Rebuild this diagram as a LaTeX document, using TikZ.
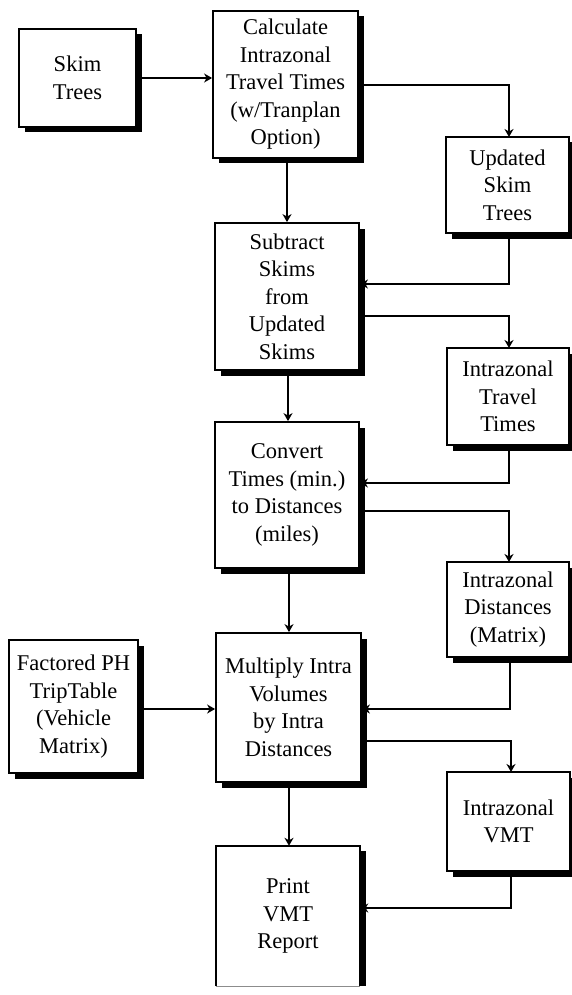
\documentclass[tikz,border=0pt]{standalone}
\usepackage{fontspec}
\setmainfont{Liberation Serif}
\usetikzlibrary{arrows.meta,shadows}
\tikzset{
  box/.style={draw=black, line width=1.8pt, fill=white, inner sep=0pt, align=center,
    font=\fontsize{22.5}{27.5}\selectfont,
    drop shadow={shadow xshift=5.5pt, shadow yshift=-5.5pt, opacity=1, fill=black}},
  plainbox/.style={draw=none, inner sep=0pt, align=center, font=\fontsize{22.5}{27.5}\selectfont},
  conn/.style={line width=1.5pt, -{Stealth[length=8pt,width=9pt,inset=2.5pt]}}
}
\begin{document}
\begin{tikzpicture}[x=1pt,y=-1pt]
\useasboundingbox (0,0) rectangle (572,995);
% boxes
\node[box, minimum width=117pt, minimum height=98pt] (skim) at (77.5,78) {Skim\\Trees};
\node[box, minimum width=145pt, minimum height=147pt] (calc) at (285.5,84.5) {Calculate\\Intrazonal\\Travel Times\\(w/Tranplan\\Option)};
\node[box, minimum width=123pt, minimum height=96pt] (upd) at (507.5,185) {Updated\\Skim\\Trees};
\node[box, minimum width=144pt, minimum height=147pt] (sub) at (287,296.5) {Subtract\\Skims\\from\\Updated\\Skims};
\node[box, minimum width=122pt, minimum height=97pt] (itt) at (508,396.5) {Intrazonal\\Travel\\Times};
\node[box, minimum width=144pt, minimum height=146pt] (conv) at (287,495) {Convert\\Times (min.)\\to Distances\\(miles)};
\node[box, minimum width=122pt, minimum height=95pt] (dist) at (508,609.5) {Intrazonal\\Distances\\(Matrix)};
\node[box, minimum width=145pt, minimum height=149pt] (mult) at (288.5,707.5) {Multiply Intra\\Volumes\\by Intra\\Distances};
\node[box, minimum width=129pt, minimum height=133pt] (fact) at (73.5,706.5) {Factored PH\\TripTable\\(Vehicle\\Matrix)};
\node[box, minimum width=123pt, minimum height=99pt] (vmt) at (508.5,821.5) {Intrazonal\\VMT};
% print box (cut at the bottom)
\node[plainbox, minimum width=144pt, minimum height=140pt] (print) at (288,916) {Print\\VMT\\Report};
\fill[black] ([yshift=-5.5pt]print.north east) rectangle ([xshift=5.5pt]print.south east);
\draw[line width=1.8pt] (print.south west) -- (print.north west) -- (print.north east) -- (print.south east);
\draw[line width=1pt, black!45] (print.south west) -- (print.south east);
% connectors
\draw[conn] (skim.east) -- (skim.east -| calc.west);
\draw[conn] (calc.east |- 0,85) -| (509,137);
\draw[conn] (287,158) -- (sub.north);
\draw[conn] (509,233) |- (sub.east |- 0,284);
\draw[conn] (sub.east |- 0,316) -| (509,348);
\draw[conn] (288,370) -- (conv.north -| 288,0);
\draw[conn] (509,445) |- (conv.east |- 0,483);
\draw[conn] (conv.east |- 0,511) -| (509,562);
\draw[conn] (289,568) -- (mult.north -| 289,0);
\draw[conn] (fact.east |- 0,709) -- (mult.west |- 0,709);
\draw[conn] (510,657) |- (mult.east |- 0,709);
\draw[conn] (mult.east |- 0,741) -| (511,772);
\draw[conn] (289,782) -- (print.north -| 289,0);
\draw[conn] (511,871) |- (print.east |- 0,908);
\end{tikzpicture}
\end{document}
